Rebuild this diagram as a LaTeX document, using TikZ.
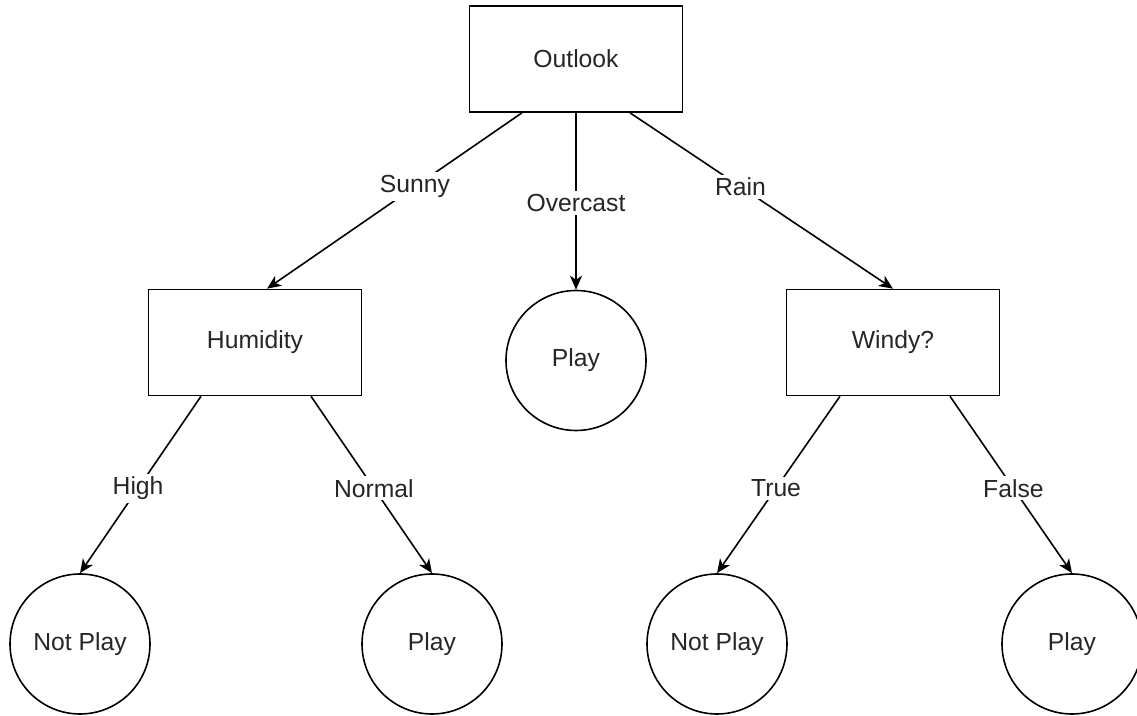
\documentclass[tikz,border=0pt]{standalone}
\usepackage{fontspec}
\setmainfont{Liberation Sans}
\usetikzlibrary{arrows.meta}
\begin{document}
\begin{tikzpicture}[x=0.5pt,y=-0.5pt,
  every node/.style={font=\fontsize{12.35}{14.8}\selectfont, text=black!85},
  boxnode/.style={draw, line width=0.8pt, minimum width=106.5pt, minimum height=53pt, inner sep=0pt},
  leaf/.style={draw, circle, line width=0.8pt, minimum size=70pt, inner sep=0pt},
  arr/.style={line width=0.8pt, -{Stealth[length=7pt,width=6pt,inset=2pt]}},
  lbl/.style={fill=white, inner sep=1.5pt}]
\clip (0,0) rectangle (1137,716);
\node[boxnode] (outlook) at (576,59) {Outlook};
\node[boxnode] (humidity) at (255,342.5) {Humidity};
\node[leaf] (play0) at (576,360.5) {Play};
\node[boxnode] (windy) at (893,342.5) {Windy?};
\node[leaf] (np1) at (80,644) {Not Play};
\node[leaf] (p1) at (432,644) {Play};
\node[leaf] (np2) at (717,644) {Not Play};
\node[leaf] (p2) at (1072,644) {Play};

\draw[arr] ([xshift=-27pt]outlook.south) -- node[lbl,pos=0.42] {Sunny} ([xshift=6pt]humidity.north);
\draw[arr] (outlook.south) -- node[lbl,pos=0.51] {Overcast} (play0.north);
\draw[arr] ([xshift=27pt]outlook.south) -- node[lbl,pos=0.42] {Rain} (windy.north);
\draw[arr] ([xshift=-27pt]humidity.south) -- node[lbl,pos=0.52] {High} (np1.north);
\draw[arr] ([xshift=28pt]humidity.south) -- node[lbl,pos=0.52] {Normal} (p1.north);
\draw[arr] ([xshift=-26.5pt]windy.south) -- node[lbl,pos=0.52] {True} (np2.north);
\draw[arr] ([xshift=28.5pt]windy.south) -- node[lbl,pos=0.52] {False} (p2.north);
\end{tikzpicture}
\end{document}
